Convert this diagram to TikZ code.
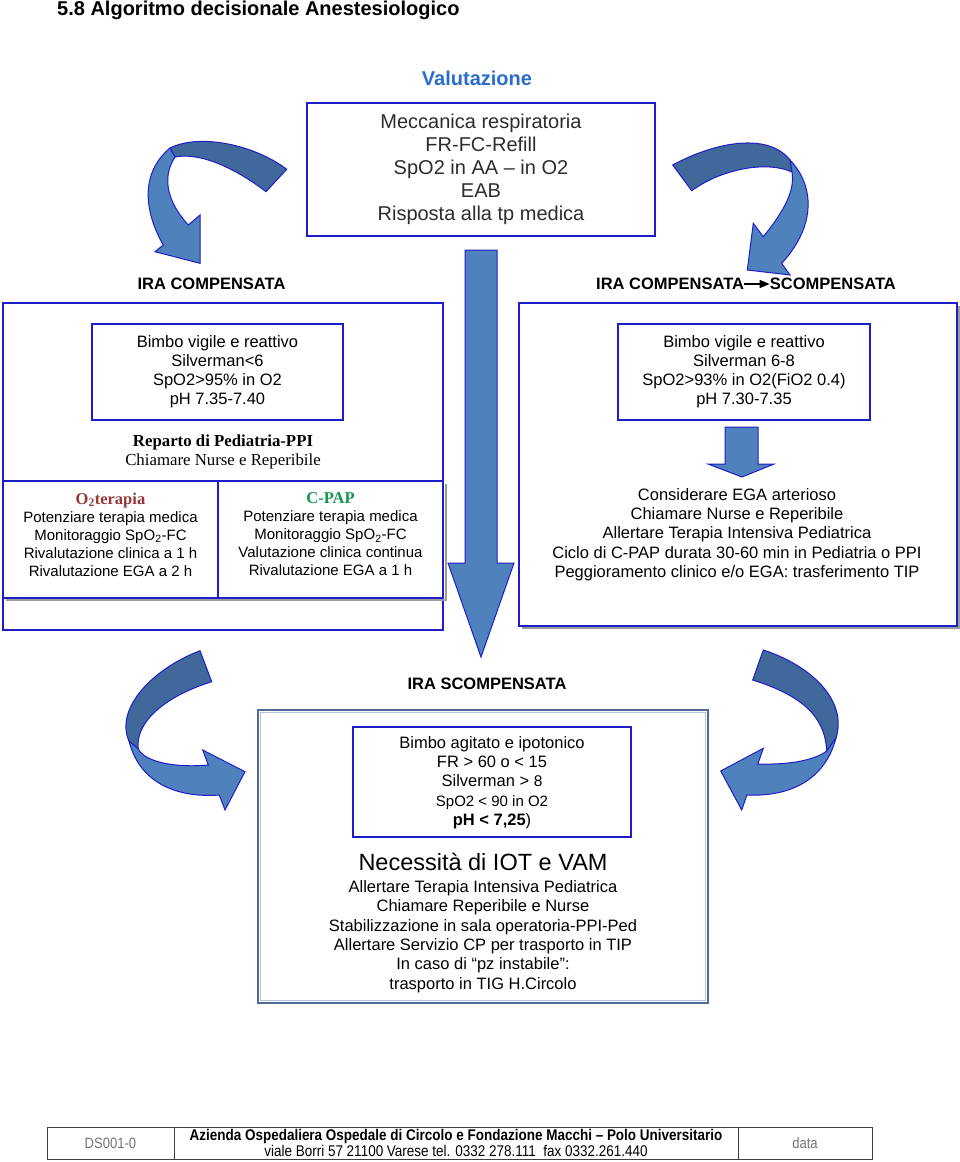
\documentclass[tikz,border=0pt]{standalone}
\usepackage{fontspec}
\usepackage{graphicx}
\setmainfont{Liberation Sans}
\newfontfamily\timesf{Liberation Serif}
\newfontfamily\narrowf[FakeStretch=0.87,Ligatures=TeX]{Liberation Sans}
\usetikzlibrary{arrows.meta}
\newcommand{\fsz}[2]{\fontsize{#1}{#2}\selectfont}
\definecolor{bx}{RGB}{30,30,200}
\definecolor{arrL}{RGB}{79,129,189}
\definecolor{arrD}{RGB}{65,104,154}
\definecolor{valb}{RGB}{40,110,200}
\definecolor{shad}{RGB}{155,155,160}
\definecolor{o2c}{RGB}{149,55,53}
\definecolor{cpapc}{RGB}{20,150,80}
\definecolor{bbx}{RGB}{80,105,150}
\definecolor{bbxl}{RGB}{175,195,225}
\definecolor{tgray}{RGB}{45,45,45}
\begin{document}
\begin{tikzpicture}[x=1pt,y=-1pt,
  box/.style={draw=bx, line width=1.4pt, fill=white, inner sep=0pt},
  txt/.style={inner sep=0pt, align=center},
  blockarrow/.style={draw=bx, line width=1pt, line join=miter},
  shadowline/.style={draw=shad, line width=1.6pt},
  ttl/.style={txt, font=\bfseries\fsz{16.5}{19}}]
\useasboundingbox (0,0) rectangle (960,1162);
\fill[white] (0,0) rectangle (960,1162);

% title
\node[txt, anchor=west, font=\bfseries\fsz{20}{24}] (title) at (57,10) {5.8 Algoritmo decisionale Anestesiologico};
\node[txt, font=\bfseries\fsz{20}{24}, text=valb] (valut) at (477,78) {Valutazione};

% top box
\node[box, minimum width=348pt, minimum height=133pt] (valbox) at (481,169.5) {};
\node[txt, font=\fsz{20}{23}, text=tgray] (valtxt) at (481,169) {Meccanica respiratoria\\FR-FC-Refill\\SpO2 in AA – in O2\\EAB\\Risposta alla tp medica};

% curved arrows top
\path[blockarrow, fill=arrD] (286.7,169.3) .. controls (255,145) and (200,133) .. (170,148) -- (175,157) .. controls (200,152) and (235,168) .. (266,191.7) -- cycle;
\path[blockarrow, fill=arrL] (170,148) .. controls (138,175) and (146,215) .. (163.3,245) -- (155,251.7) -- (200,263.3) -- (200,215) -- (188.3,225) .. controls (170,205) and (160,180) .. (175,157) -- cycle;
\path[blockarrow, fill=arrD] (672.7,165) .. controls (715,142) and (768,132) .. (790,160) -- (792,172) .. controls (765,160) and (720,170) .. (691.7,190.7) -- cycle;
\path[blockarrow, fill=arrL] (790,160) .. controls (814,185) and (817,225) .. (781.7,263.3) -- (790,275) -- (747.3,270) -- (753.3,223.3) -- (763.3,236.7) .. controls (785,210) and (795,190) .. (792,172) -- cycle;

% headings
\node[ttl] (iracomp) at (211.5,284) {IRA COMPENSATA};
\node[ttl, anchor=west] (iracomp2) at (596,284) {IRA COMPENSATA};
\node[ttl, anchor=east] (irascomp) at (896,284) {SCOMPENSATA};
\draw[line width=1.1pt, -{Triangle[length=10pt,width=8pt]}] (iracomp2.east) -- (irascomp.west);

% left big box
\node[box, minimum width=440pt, minimum height=327pt] (leftbig) at (223,466.5) {};
\node[box, minimum width=251pt, minimum height=96pt, align=center, font=\fsz{16.5}{19}] (leftin) at (217.5,372) {Bimbo vigile e reattivo\\Silverman<6\\SpO2>95\% in O2\\pH 7.35-7.40};
\node[txt, font=\timesf\fsz{16.8}{19.5}] (reparto) at (223,452) {\textbf{Reparto di Pediatria-PPI}\\Chiamare Nurse e Reperibile};
\draw[shadowline] (6,600) -- (446,600) -- (446,484);
\node[box, minimum width=215pt, minimum height=117pt] (o2cell) at (110.5,539.5) {};
\node[box, minimum width=225pt, minimum height=117pt] (cpapcell) at (330.5,539.5) {};
\node[txt, font=\fsz{15}{18}] (o2txt) at (110.5,534.5) {{\timesf\bfseries\fsz{16.5}{18}\color{o2c}O\textsubscript{2}terapia}\\Potenziare terapia medica\\Monitoraggio SpO\textsubscript{2}-FC\\Rivalutazione clinica a 1 h\\Rivalutazione EGA a 2 h};
\node[txt, font=\fsz{15}{18}] (cpaptxt) at (330.5,534.5) {{\timesf\bfseries\fsz{16.5}{18}\color{cpapc}C-PAP}\\Potenziare terapia medica\\Monitoraggio SpO\textsubscript{2}-FC\\Valutazione clinica continua\\Rivalutazione EGA a 1 h};

% right big box
\draw[shadowline] (522,628) -- (959,628) -- (959,306);
\node[box, minimum width=438pt, minimum height=323pt] (rightbig) at (738,464.5) {};
\node[box, minimum width=252pt, minimum height=96pt, align=center, font=\fsz{16.5}{19}] (rightin) at (744,372) {Bimbo vigile e reattivo\\Silverman 6-8\\SpO2>93\% in O2(FiO2 0.4)\\pH 7.30-7.35};
\path[blockarrow, fill=arrL] (725,427) -- (758,427) -- (758,464) -- (774,464) -- (742,477) -- (708,464) -- (725,464) -- cycle;
\node[txt, font=\fsz{16.5}{19.25}] (righttxt) at (737,534.5) {Considerare EGA arterioso\\Chiamare Nurse e Reperibile\\Allertare Terapia Intensiva Pediatrica\\Ciclo di C-PAP durata 30-60 min in Pediatria o PPI\\Peggioramento clinico e/o EGA: trasferimento TIP};

% central arrow
\path[blockarrow, fill=arrL] (465,250) -- (497,250) -- (497,563) -- (514,563) -- (481,657) -- (448,563) -- (465,563) -- cycle;

% IRA SCOMPENSATA
\node[ttl] (irascomp2) at (487,684) {IRA SCOMPENSATA};

% bottom curved arrows
\path[blockarrow, fill=arrD] (200,650.7) .. controls (150,670) and (115,710) .. (129,741) -- (138.3,749) .. controls (135,725) and (160,698) .. (211.7,681.7) -- cycle;
\path[blockarrow, fill=arrL] (129,741) .. controls (140,785) and (180,798) .. (219.3,795) -- (225,810) -- (245,771.7) -- (202.7,750) -- (208.3,765) .. controls (175,768) and (145,762) .. (138.3,749) -- cycle;
\path[blockarrow, fill=arrD] (763.3,650) .. controls (810,665) and (848,700) .. (836,738) -- (826.7,751) .. controls (825,715) and (800,695) .. (752.7,680) -- cycle;
\path[blockarrow, fill=arrL] (836,738) .. controls (825,780) and (790,797) .. (746.9,795) -- (741.7,810) -- (720.7,771) -- (763.3,748.3) -- (757.8,764) .. controls (790,765) and (815,760) .. (826.7,751) -- cycle;

% bottom box
\node[draw=bbx, line width=2.5pt, fill=white, minimum width=450pt, minimum height=293pt, inner sep=0pt] (botbig) at (483,856.5) {};
\draw[bbxl, line width=1pt] ([shift={(3.5,3.5)}]botbig.north west) rectangle ([shift={(-3.5,-3.5)}]botbig.south east);
\node[box, minimum width=278pt, minimum height=110pt] (botin) at (492,782) {};
\node[txt, font=\fsz{16.5}{19.25}] (bottxt) at (492,782.5) {Bimbo agitato e ipotonico\\FR > 60 o < 15\\Silverman > {\fsz{15.5}{19.25}8}\\{\fsz{15}{19.25}SpO2 < 90 in O2}\\\textbf{pH < 7,25})};
\node[txt, font=\fsz{23.5}{28}] (iot) at (483,862) {Necessità di IOT e VAM};
\node[txt, font=\fsz{16.5}{19.4}] (iottxt) at (483,936.5) {Allertare Terapia Intensiva Pediatrica\\Chiamare Reperibile e Nurse\\Stabilizzazione in sala operatoria-PPI-Ped\\Allertare Servizio CP per trasporto in TIP\\In caso di “pz instabile”:\\trasporto in TIG H.Circolo};

% footer
\node[draw=black!75, line width=0.7pt, minimum width=825pt, minimum height=32pt, inner sep=0pt] (foot) at (459.5,1143) {};
\draw[black!75, line width=0.7pt] (174,1127) -- (174,1159);
\draw[black!75, line width=0.7pt] (738,1127) -- (738,1159);
\node[txt, font=\narrowf\fsz{15}{16}, text=black!55] (ds) at (110.5,1143) {DS001-0};
\node[txt, font=\narrowf\fsz{15}{16}, text=black!55] (data) at (805,1143) {data};
\node[txt, font=\narrowf\fsz{15.5}{16.5}] (az) at (456,1143) {\textbf{Azienda Ospedaliera Ospedale di Circolo e Fondazione Macchi – Polo Universitario}\\viale Borri 57 21100 Varese tel. 0332 278.111\ \ fax 0332.261.440};
\end{tikzpicture}
\end{document}
